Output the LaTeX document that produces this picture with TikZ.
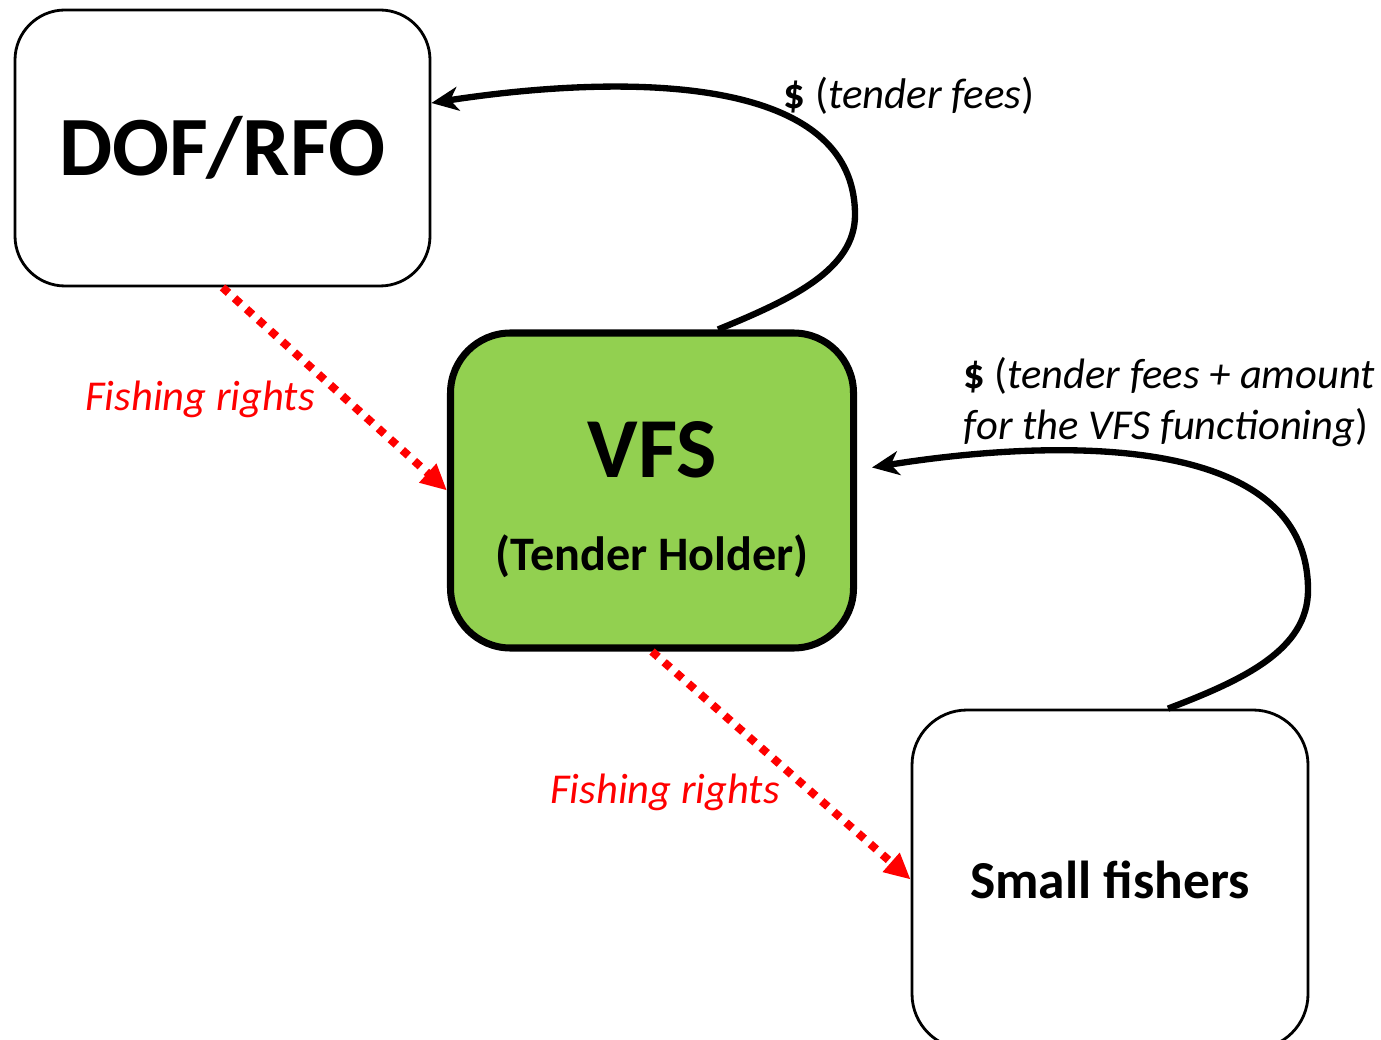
\documentclass[tikz,border=0pt]{standalone}
\usepackage{fontspec}
\setmainfont{Carlito}
\usepackage{xcolor}
\usetikzlibrary{arrows.meta}
\definecolor{vert}{HTML}{92D050}
\definecolor{rouge}{HTML}{FF0000}

\begin{document}
\begin{tikzpicture}[
  boite/.style={draw, rounded corners=0.5cm, line width=0.8pt, align=center},
  flux/.style={line width=1.8pt, -{Stealth[length=0.27cm, width=0.24cm, inset=0.08cm]}},
  droits/.style={rouge, line width=2.3pt, dash pattern=on 2.3pt off 2.3pt,
    -{Triangle[length=0.26cm, width=0.24cm]}},
  etiquette/.style={rouge, font=\fontsize{12.1}{14.5}\selectfont\itshape}
]
  % Cadre de l'image
  \useasboundingbox (0,0) rectangle (13.81,10.39);
  \clip (0,0) rectangle (13.81,10.39);

  % Les trois acteurs
  \node[boite, minimum width=4.15cm, minimum height=2.76cm,
    font=\fontsize{24}{28}\selectfont\bfseries] (dof) at (2.225,8.91) {DOF/RFO};
  \node[boite, fill=vert, line width=2pt, rounded corners=0.6cm,
    minimum width=4.03cm, minimum height=3.15cm] (vfs) at (6.52,5.485) {};
  \node[boite, rounded corners=0.55cm, minimum width=3.96cm, minimum height=3.39cm,
    font=\fontsize{15.2}{18}\selectfont\bfseries] (fishers) at (11.10,1.595) {Small fishers};

  % Textes du VFS
  \node[font=\fontsize{24.3}{28}\selectfont\bfseries] (vfstitre) at (6.52,5.89) {VFS};
  \node[font=\fontsize{13.7}{16}\selectfont\bfseries] (vfssous) at (6.52,4.83) {(Tender Holder)};

  % Paiements vers le haut
  \draw[flux] ([xshift=0.66cm]vfs.north) .. controls (7.90,7.39) and (8.55,7.69) .. (8.55,8.24)
    .. controls (8.55,9.79) and (5.80,9.59) .. ([yshift=0.45cm]dof.east);
  \draw[flux] ([xshift=0.58cm]fishers.north) .. controls (12.43,3.59) and (13.08,3.89) .. (13.08,4.49)
    .. controls (13.08,6.19) and (10.18,5.95) .. ([xshift=0.15cm,yshift=0.23cm]vfs.east);

  % Droits de peche vers le bas
  \draw[droits] (dof.south) -- (vfs.west);
  \draw[droits] (vfs.south) -- (fishers.west);

  % Etiquettes des fleches
  \node[anchor=west, inner sep=0pt, font=\fontsize{12.2}{14.5}\selectfont] (frais) at (7.83,9.43)
    {\textbf{\$} (\textit{tender fees})};
  \node[anchor=west, inner sep=0pt, align=left, font=\fontsize{12.1}{14.5}\selectfont] (montant) at (9.63,6.365)
    {\textbf{\$} (\textit{tender fees + amount}\\\textit{for the VFS functioning})};
  \node[etiquette] (droitshaut) at (2.00,6.40) {Fishing rights};
  \node[etiquette] (droitsbas) at (6.65,2.47) {Fishing rights};
\end{tikzpicture}
\end{document}
